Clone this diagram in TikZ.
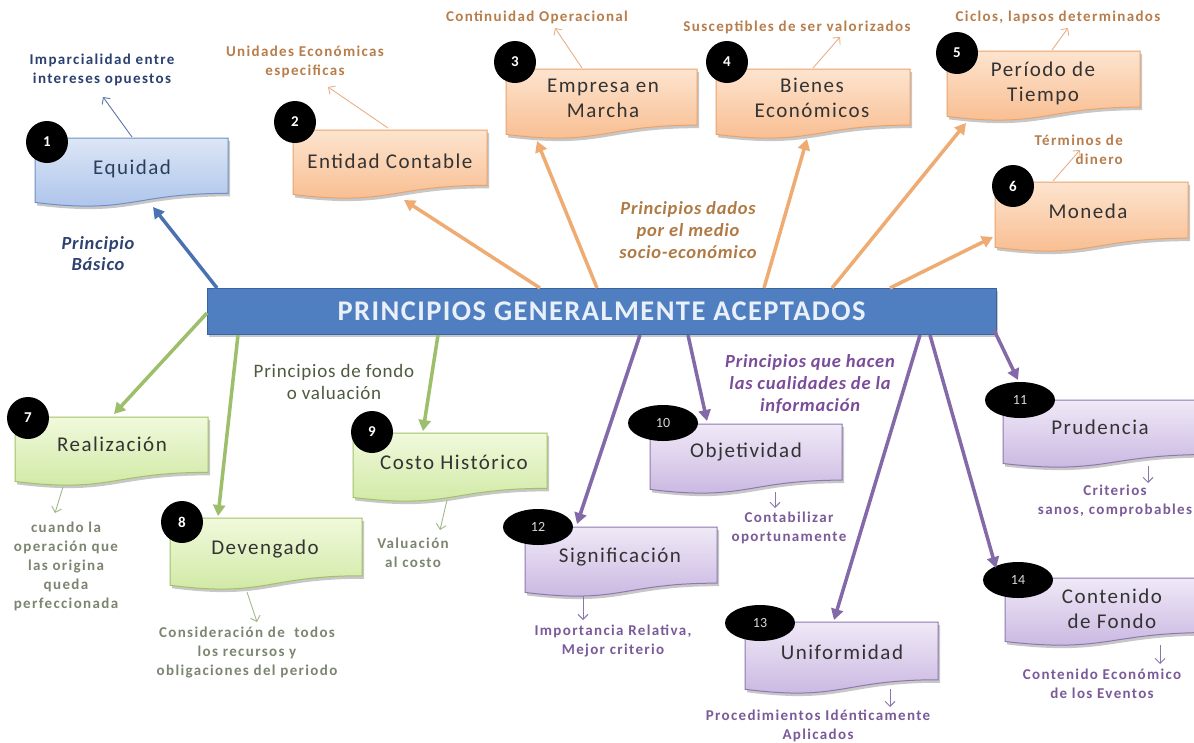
\documentclass[tikz,border=0pt]{standalone}
\usepackage{fontspec}
\setmainfont{Carlito}
\newfontfamily\boxf[LetterSpace=7]{Carlito}
\newfontfamily\smallf[LetterSpace=9]{Carlito}
\newfontfamily\catf[LetterSpace=4]{Carlito}
\newfontfamily\titf[LetterSpace=5]{Carlito}
\usetikzlibrary{shadows,arrows.meta,shapes.geometric}
\definecolor{bluetop}{HTML}{DCE6F5}
\definecolor{bluebot}{HTML}{A9C1EA}
\definecolor{blueline}{HTML}{6F8FC5}
\definecolor{oratop}{HTML}{FDE4CF}
\definecolor{orabot}{HTML}{F8BA8B}
\definecolor{oraline}{HTML}{E9A46C}
\definecolor{grntop}{HTML}{F1F9DC}
\definecolor{grnbot}{HTML}{CDE8A0}
\definecolor{grnline}{HTML}{A3C266}
\definecolor{purtop}{HTML}{F0E9F7}
\definecolor{purbot}{HTML}{C6B3DF}
\definecolor{purline}{HTML}{8E78B0}
\definecolor{barfill}{HTML}{4F7FC0}
\definecolor{barline}{HTML}{3A64A0}
\definecolor{bartext}{HTML}{EAF0FA}
\definecolor{arblue}{HTML}{4A72B0}
\definecolor{arora}{HTML}{EEAB72}
\definecolor{argrn}{HTML}{9DBF6C}
\definecolor{arpur}{HTML}{8469A8}
\definecolor{sblue}{HTML}{5A78A8}
\definecolor{sora}{HTML}{E8B08A}
\definecolor{sgrn}{HTML}{A0B88A}
\definecolor{spur}{HTML}{8A78A8}
\definecolor{tblue}{HTML}{2A4170}
\definecolor{tora}{HTML}{B87D4A}
\definecolor{tgrn}{HTML}{7C8570}
\definecolor{tpur}{HTML}{7A5A98}
\definecolor{cblue}{HTML}{2D4270}
\definecolor{cora}{HTML}{B07A44}
\definecolor{cgrn}{HTML}{4E5B3E}
\definecolor{cpur}{HTML}{7A4C9A}
\definecolor{boxtext}{HTML}{333333}
\definecolor{eqtext}{HTML}{2C3E5E}
\newcommand\docbox[6]{%
  \path[#2] (#3,#4) -- ({#3+#5},#4) -- ({#3+#5},{#4+0.802*#6})
    .. controls ({#3+0.5*#5},{#4+0.802*#6}) and ({#3+0.5*#5},{#4+1.107*#6}) .. (#3,{#4+0.934*#6}) -- cycle;
  \node[inner sep=0pt, minimum width=#5, minimum height={0.8*#6}, anchor=north west] (#1) at (#3,#4) {};
}
\tikzset{
  shad/.style={drop shadow={shadow xshift=2pt,shadow yshift=-3pt,opacity=0.22,fill=black}},
  bluebox/.style={shad, draw=blueline, line width=1pt, top color=bluetop, bottom color=bluebot},
  orabox/.style={shad, draw=oraline, line width=1pt, top color=oratop, bottom color=orabot},
  grnbox/.style={shad, draw=grnline, line width=1pt, top color=grntop, bottom color=grnbot},
  purbox/.style={shad, draw=purline, line width=1pt, top color=purtop, bottom color=purbot},
  boxlabel/.style={align=center, text=boxtext, inner sep=0pt, font={\boxf\fontsize{21}{25}\selectfont}},
  numc/.style={circle, fill=black, minimum size=42, inner sep=0pt, text=white, font={\bfseries\fontsize{15}{15}\selectfont}},
  nume/.style={ellipse, fill=black, minimum width=70, minimum height=36, inner sep=0pt, text=white!85!black, font={\fontsize{14}{14}\selectfont}},
  mainarrow/.style={line width=3.5pt, -{Triangle[length=11pt,width=12pt]}},
  smallarrow/.style={line width=0.9pt, -{Straight Barb[length=5pt,width=10pt]}},
  smalltext/.style={align=center, inner sep=0pt, font={\smallf\bfseries\fontsize{15}{19}\selectfont}},
  cattext/.style={align=center, inner sep=0pt, font={\catf\fontsize{19}{22}\selectfont}},
}
\begin{document}
\begin{tikzpicture}[x=1pt,y=-1pt]
\useasboundingbox (0,0) rectangle (1194,742);
\fill[white] (0,0) rectangle (1194,742);

% ---------- boxes ----------
\docbox{eq}{bluebox}{35}{138}{193}{69}
\docbox{ent}{orabox}{293}{130}{194}{69}
\docbox{emp}{orabox}{506}{69}{191}{70}
\docbox{bie}{orabox}{716}{69}{194}{70}
\docbox{per}{orabox}{947}{51}{193}{70}
\docbox{mon}{orabox}{995}{182}{193}{70}
\docbox{rea}{grnbox}{15}{417}{193}{69}
\docbox{dev}{grnbox}{170}{518}{192}{72}
\docbox{cos}{grnbox}{353}{433}{194}{69}
\docbox{obj}{purbox}{650}{424}{192}{70}
\docbox{pru}{purbox}{1003}{400}{205}{68}
\docbox{sig}{purbox}{525}{527}{192}{70}
\docbox{uni}{purbox}{745}{622}{193}{72}
\docbox{con}{purbox}{1005}{578}{205}{68}

% ---------- box labels ----------
\node[boxlabel, text=eqtext] (eqt) at (132,169) {Equidad};
\node[boxlabel] (entt) at (390,161) {Entidad Contable};
\node[boxlabel] (empt) at (603,98) {Empresa en\\Marcha};
\node[boxlabel] (biet) at (812,98) {Bienes\\Económicos};
\node[boxlabel] (pert) at (1043,83) {Período de\\Tiempo};
\node[boxlabel] (mont) at (1088,211) {Moneda};
\node[boxlabel] (reat) at (112,444) {Realización};
\node[boxlabel] (devt) at (265,549) {Devengado};
\node[boxlabel] (cost) at (454,462) {Costo Histórico};
\node[boxlabel] (objt) at (746,452) {Objetividad};
\node[boxlabel] (prut) at (1100,427) {Prudencia};
\node[boxlabel] (sigt) at (620,557) {Significación};
\node[boxlabel] (unit) at (842,652) {Uniformidad};
\node[boxlabel] (cont) at (1112,609) {Contenido\\de Fondo};

% ---------- number markers ----------
\node[numc] (n1) at (47,142) {1};
\node[numc] (n2) at (295,122) {2};
\node[numc] (n3) at (515,62) {3};
\node[numc] (n4) at (727,62) {4};
\node[numc] (n5) at (957,53) {5};
\node[numc] (n6) at (1013,186) {6};
\node[numc] (n7) at (28,418) {7};
\node[numc] (n8) at (182,522) {8};
\node[numc] (n9) at (372,432) {9};
\node[nume] (n10) at (663,423) {10};
\node[nume] (n11) at (1020,400) {11};
\node[nume] (n12) at (538,527) {12};
\node[nume] (n13) at (760,623) {13};
\node[nume] (n14) at (1018,580) {14};

% ---------- main bar ----------
\node[shad, draw=barline, line width=1pt, fill=barfill, minimum width=789, minimum height=46, inner sep=0pt,
      text=bartext, font={\titf\bfseries\fontsize{28.5}{28.5}\selectfont}] (bar) at (601.5,311) {PRINCIPIOS GENERALMENTE ACEPTADOS};

% ---------- arrow end coordinates ----------
\coordinate (b1) at (217,288);   \coordinate (e1) at (153,207);
\coordinate (b2) at (540,288);   \coordinate (e2) at (404,200);
\coordinate (b3) at (597,288);   \coordinate (e3) at (537,141);
\coordinate (b4) at (764,288);   \coordinate (e4) at (807,139);
\coordinate (b5) at (832,288);   \coordinate (e5) at (966,123);
\coordinate (b6) at (890,288);   \coordinate (e6) at (993,237);
\coordinate (b7) at (207,313);   \coordinate (e7) at (114,414);
\coordinate (b8) at (238,335);   \coordinate (e8) at (218,516);
\coordinate (b9) at (438,335);   \coordinate (e9) at (423,431);
\coordinate (b12) at (640,335);  \coordinate (e12) at (577,524);
\coordinate (b10) at (688,335);  \coordinate (e10) at (707,421);
\coordinate (b13) at (920,335);  \coordinate (e13) at (834,620);
\coordinate (b14) at (930,335);  \coordinate (e14) at (996,568);
\coordinate (b11) at (994,330);  \coordinate (e11) at (1018,380);

\draw[mainarrow, arblue] (b1) -- (e1);
\draw[mainarrow, arora] (b2) -- (e2);
\draw[mainarrow, arora] (b3) -- (e3);
\draw[mainarrow, arora] (b4) -- (e4);
\draw[mainarrow, arora] (b5) -- (e5);
\draw[mainarrow, arora] (b6) -- (e6);
\draw[mainarrow, argrn] (b7) -- (e7);
\draw[mainarrow, argrn] (b8) -- (e8);
\draw[mainarrow, argrn] (b9) -- (e9);
\draw[mainarrow, arpur] (b12) -- (e12);
\draw[mainarrow, arpur] (b10) -- (e10);
\draw[mainarrow, arpur] (b13) -- (e13);
\draw[mainarrow, arpur] (b14) -- (e14);
\draw[mainarrow, arpur] (b11) -- (e11);

% ---------- small labels ----------
\node[smalltext, text=tblue] (l1) at (102,70) {Imparcialidad entre\\intereses opuestos};
\node[smalltext, text=tora] (l2) at (305,62) {Unidades Económicas\\especificas};
\node[smalltext, text=tora] (l3) at (537,17) {Continuidad Operacional};
\node[smalltext, text=tora] (l4) at (797,27) {Susceptibles de ser valorizados};
\node[smalltext, text=tora] (l5) at (1058,17) {Ciclos, lapsos determinados};
\node[smalltext, text=tora, align=right, anchor=east] (l6) at (1123,150) {Términos de\\dinero};
\node[smalltext, text=tgrn] (l7) at (66,566) {cuando la\\operación que\\las origina\\queda\\perfeccionada};
\node[smalltext, text=tgrn] (l8) at (247,652) {Consideración de\ \ todos\\los recursos y\\obligaciones del periodo};
\node[smalltext, text=tgrn] (l9) at (413,553) {Valuación\\al costo};
\node[smalltext, text=tpur] (l10) at (789,528) {Contabilizar\\oportunamente};
\node[smalltext, text=tpur] (l11) at (1115,501) {Criterios\\sanos, comprobables};
\node[smalltext, text=tpur] (l12) at (613,641) {Importancia Relativa,\\Mejor criterio};
\node[smalltext, text=tpur] (l13) at (818,726) {Procedimientos Idénticamente\\Aplicados};
\node[smalltext, text=tpur] (l14) at (1102,684) {Contenido Económico\\de los Eventos};

% ---------- small arrows ----------
\coordinate (s1) at (132,137);   \coordinate (t1) at (103,97);
\coordinate (s2) at (388,128);   \coordinate (t2) at (328,87);
\coordinate (s3) at (582,68);    \coordinate (t3) at (555,28);
\coordinate (s4) at (813,68);    \coordinate (t4) at (840,37);
\coordinate (s5) at (1052,50);   \coordinate (t5) at (1068,28);
\coordinate (s6) at (1053,181);  \coordinate (t6) at (1080,150);
\coordinate (s7) at (63,487);    \coordinate (t7) at (55,513);
\coordinate (s8) at (247,592);   \coordinate (t8) at (257,622);
\coordinate (s9) at (447,500);   \coordinate (t9) at (440,530);
\coordinate (s10) at (775,492);  \coordinate (t10) at (775,508);
\coordinate (s11) at (1148,466); \coordinate (t11) at (1148,483);
\coordinate (s12) at (583,596);  \coordinate (t12) at (583,620);
\coordinate (s13) at (890,689);  \coordinate (t13) at (890,707);
\coordinate (s14) at (1160,645); \coordinate (t14) at (1160,664);
\draw[smallarrow, sblue] (s1) -- (t1);
\foreach \i in {2,3,4,5,6} {\draw[smallarrow, sora] (s\i) -- (t\i);}
\foreach \i in {7,8,9} {\draw[smallarrow, sgrn] (s\i) -- (t\i);}
\foreach \i in {10,11,12,13,14} {\draw[smallarrow, spur] (s\i) -- (t\i);}

% ---------- category labels ----------
\node[cattext, text=cblue, font={\catf\bfseries\itshape\fontsize{18.5}{21}\selectfont}] (c1) at (98,254) {Principio\\Básico};
\node[cattext, text=cora, font={\catf\bfseries\itshape\fontsize{18.5}{22}\selectfont}] (c2) at (688,230) {Principios dados\\por el medio\\socio-económico};
\node[cattext, text=cgrn] (c3) at (334,382) {Principios de fondo\\o valuación};
\node[cattext, text=cpur, font={\catf\bfseries\itshape\fontsize{18.5}{22}\selectfont}] (c4) at (810,384) {Principios que hacen\\las cualidades de la\\información};
\end{tikzpicture}
\end{document}
